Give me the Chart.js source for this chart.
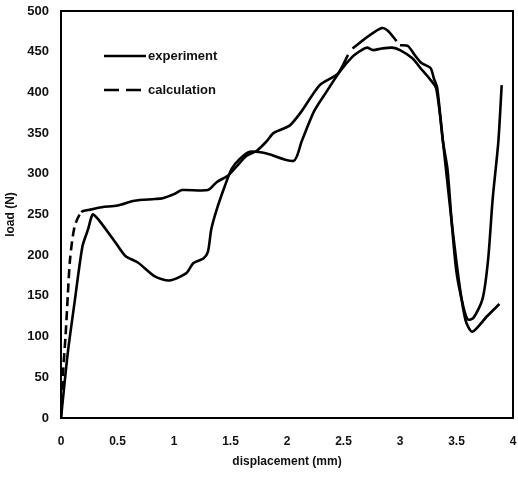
<!DOCTYPE html>
<html>
<head>
<meta charset="utf-8">
<script src="https://cdn.jsdelivr.net/npm/chart.js@4.4.1/dist/chart.umd.min.js"></script>
<style>
  body { margin: 0; background: #fff; }
  #wrap { width: 518px; height: 477px; }
</style>
</head>
<body>
<div id="wrap"><canvas id="chart"></canvas></div>
<script>
// values (null = gap in the dashed line)
var expX = [0, 0.06, 0.12, 0.19, 0.24, 0.28, 0.33, 0.48, 0.57, 0.68, 0.83, 0.96, 1.11, 1.17, 1.26,
  1.3, 1.33, 1.38, 1.45, 1.51, 1.58, 1.67, 1.82, 2.06, 2.13, 2.24, 2.35, 2.47, 2.58, 2.66, 2.71,
  2.76, 2.84, 2.93, 3.0, 3.11, 3.18, 3.26, 3.32, 3.38, 3.45, 3.52, 3.58, 3.64, 3.77, 3.88];
var expY = [0, 80, 142, 211, 232, 250, 244, 216, 199, 191, 174, 169, 178, 190, 196,
  204, 232, 257, 285, 306, 318, 327, 325, 316, 340, 377, 401, 426, 444, 452, 455,
  452, 454, 455, 452, 442, 430, 417, 405, 340, 250, 170, 120, 106, 125, 140];

var calcX = [0, 0.02, 0.04, 0.06, 0.08, 0.12, 0.18, 0.26, 0.36, 0.5, 0.65, 0.83, 0.9, 1.0, 1.07,
  1.3, 1.38, 1.48, 1.56, 1.64, 1.73, 1.82, 1.88, 1.96, 2.03, 2.13, 2.29, 2.45, 2.54, 2.56, 2.58,
  2.73, 2.84, 2.89, 2.97, 2.985, 3.0, 3.07, 3.13, 3.19, 3.27, 3.3, 3.33, 3.38, 3.42, 3.46, 3.5,
  3.56, 3.6, 3.65, 3.73, 3.78, 3.82, 3.87, 3.9];
var calcY = [0, 60, 100, 150, 195, 235, 253, 256, 259, 261, 267, 269, 270, 275, 280,
  280, 290, 298, 310, 322, 328, 340, 350, 355, 360, 377, 409, 423, 446, null, 454,
  470, 479, 476, 463, null, 458, 457, 446, 436, 430, 417, 405, 340, 306, 236, 179,
  137, 121, 123, 146, 195, 269, 339, 409];

var xTickLabels = ['0', '0.5', '1', '1.5', '2', '2.5', '3', '3.5', '4'];
var yTickLabels = ['0', '50', '100', '150', '200', '250', '300', '350', '400', '450', '500'];

function zip(xs, ys) {
  return xs.map(function (x, i) { return { x: x, y: ys[i] }; });
}

var font = "'Liberation Sans', Arial, sans-serif";

// white page + box round the plot + the in-plot legend
var framePlugin = {
  id: 'frame',
  beforeDraw: function (chart) {
    var ctx = chart.ctx;
    ctx.save();
    ctx.fillStyle = '#fff';
    ctx.fillRect(0, 0, chart.width, chart.height);
    ctx.restore();
  },
  afterDatasetsDraw: function (chart) {
    var ctx = chart.ctx, a = chart.chartArea;
    ctx.save();
    ctx.strokeStyle = '#000';
    ctx.lineWidth = 2;
    ctx.strokeRect(a.left, a.top, a.right - a.left, a.bottom - a.top);

    var items = chart.data.datasets;
    ctx.font = 'bold 13px ' + font;
    ctx.fillStyle = '#111';
    ctx.textBaseline = 'middle';
    items.forEach(function (ds, i) {
      var y = a.top + 45 + i * 34;
      ctx.beginPath();
      ctx.lineWidth = 2.5;
      ctx.setLineDash(i === 1 ? [15, 7] : []);
      ctx.moveTo(a.left + 43, y);
      ctx.lineTo(a.left + 85, y);
      ctx.stroke();
      ctx.setLineDash([]);
      ctx.fillText(ds.label, a.left + 87, y);
    });
    ctx.restore();
  }
};

var ctx = document.getElementById('chart').getContext('2d');
var chart = new Chart(ctx, {
  type: 'line',
  data: {
    datasets: [{
      label: 'experiment',
      data: zip(expX, expY),
      borderColor: '#000',
      borderWidth: 2.6,
      pointRadius: 0,
      tension: 0.25
    }, {
      label: 'calculation',
      data: zip(calcX, calcY),
      borderColor: '#000',
      borderWidth: 2.6,
      pointRadius: 0,
      tension: 0.25,
      segment: {
        borderDash: function (c) { return c.p0.parsed.x < 0.15 ? [9, 5] : undefined; }
      }
    }]
  },
  options: {
    responsive: true,
    maintainAspectRatio: false,
    animation: false,
    layout: { padding: { top: 11, right: 5, left: 0, bottom: 0 } },
    plugins: {
      legend: { display: false },
      tooltip: { enabled: false }
    },
    scales: {
      x: {
        type: 'linear',
        min: 0,
        max: 4,
        grid: { display: false, drawTicks: false },
        border: { display: false },
        afterFit: function (s) {
          s.height = 59;
          s.paddingLeft = 0;
          s.paddingRight = 0;
        },
        ticks: {
          stepSize: 0.5,
          padding: 16,
          color: '#111',
          font: { family: font, size: 12, weight: 'bold' },
          callback: function (v, i) { return xTickLabels[i]; }
        },
        title: {
          display: true,
          text: 'displacement (mm)',
          color: '#111',
          font: { family: font, size: 12, weight: 'bold' },
          padding: { top: 0, bottom: 8 }
        }
      },
      y: {
        min: 0,
        max: 500,
        grid: { display: false, drawTicks: false },
        border: { display: false },
        afterFit: function (s) {
          s.width = 61;
          s.paddingTop = 0;
          s.paddingBottom = 0;
        },
        ticks: {
          stepSize: 50,
          padding: 12,
          color: '#111',
          font: { family: font, size: 13, weight: 'bold' },
          callback: function (v, i) { return yTickLabels[i]; }
        },
        title: {
          display: true,
          text: 'load (N)',
          color: '#111',
          font: { family: font, size: 12, weight: 'bold' },
          padding: { top: 3, bottom: 0 }
        }
      }
    }
  },
  plugins: [framePlugin]
});
</script>
</body>
</html>
